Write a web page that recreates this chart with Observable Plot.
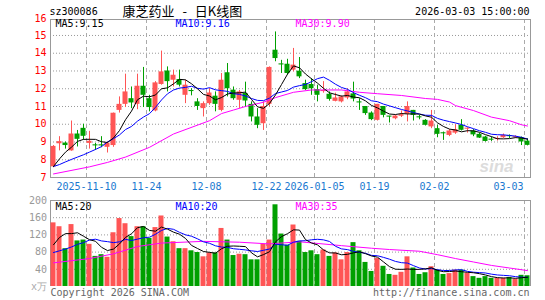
<!DOCTYPE html>
<html><head><meta charset="utf-8">
<script src="https://cdn.jsdelivr.net/npm/d3@7"></script>
<script src="https://cdn.jsdelivr.net/npm/@observablehq/plot@0.6"></script>
<style>
body{margin:0;background:#fff;}
#chart{position:relative;width:545px;height:300px;overflow:hidden;background:#fff;}
#chart svg{position:absolute;left:0;}
</style></head><body><div id="chart"></div>
<script>
// ---------- data ----------
const dates = [
"2025-10-31","2025-11-03","2025-11-04","2025-11-05","2025-11-06","2025-11-07",
"2025-11-10","2025-11-11","2025-11-12","2025-11-13","2025-11-14",
"2025-11-17","2025-11-18","2025-11-19","2025-11-20","2025-11-21",
"2025-11-24","2025-11-25","2025-11-26","2025-11-27","2025-11-28",
"2025-12-01","2025-12-02","2025-12-03","2025-12-04","2025-12-05",
"2025-12-08","2025-12-09","2025-12-10","2025-12-11","2025-12-12",
"2025-12-15","2025-12-16","2025-12-17","2025-12-18","2025-12-19",
"2025-12-22","2025-12-23","2025-12-24","2025-12-25","2025-12-26",
"2025-12-29","2025-12-30","2025-12-31",
"2026-01-05","2026-01-06","2026-01-07","2026-01-08","2026-01-09",
"2026-01-12","2026-01-13","2026-01-14","2026-01-15","2026-01-16",
"2026-01-19","2026-01-20","2026-01-21","2026-01-22","2026-01-23",
"2026-01-26","2026-01-27","2026-01-28","2026-01-29","2026-01-30",
"2026-02-02","2026-02-03","2026-02-04","2026-02-05","2026-02-06",
"2026-02-09","2026-02-10","2026-02-11","2026-02-12","2026-02-13",
"2026-02-24","2026-02-25","2026-02-26","2026-02-27",
"2026-03-02","2026-03-03"];

const open = [7.6,8.9,8.94,8.5,9.45,9.77,8.92,8.84,8.82,8.7,8.8,10.78,11.12,11.44,11.12,12.14,11.44,10.75,12.24,13.0,12.48,12.52,11.63,11.87,11.26,10.88,11.16,11.58,10.78,12.9,11.92,11.35,11.73,11.12,10.41,10.03,11.12,14.17,13.38,13.38,13.05,12.99,12.29,12.24,11.95,11.84,11.69,11.29,11.26,11.48,11.71,11.24,11.0,10.63,10.22,11.0,10.43,10.31,10.45,10.56,10.78,10.4,10.22,9.85,9.75,9.5,9.37,9.5,9.94,9.72,9.62,9.43,9.28,9.15,9.14,9.24,9.32,9.24,9.24,9.05];
const high = [8.8,9.3,9.0,10.18,9.65,10.0,9.6,8.92,9.3,9.0,10.63,11.54,12.82,12.1,12.82,13.2,11.63,12.4,14.12,13.23,13.05,13.05,12.48,12.0,11.44,11.26,12.0,11.82,12.86,13.42,12.1,11.9,12.37,11.26,10.88,11.26,13.23,15.2,13.6,13.66,14.27,13.76,12.48,12.57,12.2,12.4,11.82,11.75,11.6,12.0,12.37,11.44,11.0,10.7,11.12,11.0,10.45,10.5,10.75,11.26,10.78,10.5,10.26,10.78,9.94,9.56,9.7,9.98,10.26,9.8,9.7,9.5,9.32,9.28,9.3,9.45,9.4,9.35,9.28,9.18];
const low = [7.55,8.5,8.6,8.48,8.72,9.1,8.6,8.52,8.68,8.38,8.7,10.63,10.94,10.88,10.82,10.94,10.7,10.7,12.2,11.82,12.1,12.1,11.16,11.6,10.78,10.41,11.07,10.7,10.7,11.54,11.35,10.88,10.94,10.13,9.75,9.65,11.0,13.52,12.86,12.77,12.95,12.57,11.9,11.63,11.26,11.75,11.3,11.26,11.2,11.38,11.26,10.78,10.5,10.2,10.18,10.36,10.07,10.25,10.38,10.13,10.18,10.25,9.9,9.75,9.24,9.09,9.3,9.43,9.62,9.5,9.3,9.2,9.0,9.03,9.05,9.2,9.2,9.2,8.8,8.78];
const close = [8.75,9.02,8.8,9.45,9.15,9.32,9.04,8.78,8.78,8.93,10.62,11.12,11.82,11.2,12.14,11.63,10.94,12.33,12.95,12.4,12.76,12.2,12.2,11.84,11.0,11.16,11.76,11.12,12.48,12.0,11.44,11.82,11.31,10.41,9.94,11.0,13.2,13.7,13.34,12.86,13.33,12.67,11.95,12.0,11.63,11.87,11.4,11.48,11.54,11.82,11.42,11.2,10.6,10.26,11.12,10.5,10.4,10.46,10.54,11.0,10.5,10.36,9.94,10.18,9.43,9.46,9.62,9.69,9.66,9.76,9.4,9.22,9.03,9.1,9.16,9.37,9.3,9.3,9.0,8.81];
const volume = [148,139,88,144,106,108,98,70,74,68,125,158,146,116,139,139,112,137,164,115,104,88,88,83,79,69,78,78,135,108,72,75,74,62,62,98,108,190,122,96,143,105,79,83,74,85,70,78,62,79,102,83,56,35,65,47,28,26,33,69,43,28,32,46,38,28,30,38,38,31,23,19,23,19,19,19,21,17,26,25];

// first values of the moving averages (they depend on days before the window)
const priceMA5Head = [7.62,8.05,8.43,8.71];
const priceMA10Head = [7.62,7.73,7.88,8.02,8.15,8.28,8.43,8.58,8.74];
const volMA5Head = [97,114,123,123];
const volMA10Head = [79,83,87,92,98,102,108,110,106];

// 30-day averages
const priceMA30Dates = ["2025-10-31","2025-11-10","2025-11-13","2025-11-18","2025-11-24","2025-11-28","2025-12-08","2025-12-10","2025-12-12","2025-12-16","2025-12-19","2025-12-23","2025-12-26","2025-12-31","2026-01-09","2026-01-14","2026-01-19","2026-01-23","2026-01-29","2026-02-02","2026-02-04","2026-02-05","2026-02-10","2026-02-13","2026-02-26","2026-03-02","2026-03-03"];
const priceMA30Vals = [7.2,7.6,7.85,8.15,8.7,9.45,10.2,10.6,10.8,11.0,11.24,11.5,11.8,11.93,11.93,11.8,11.72,11.62,11.45,11.4,11.25,11.05,10.77,10.4,10.2,9.97,9.9];
const volMA30Dates = ["2025-10-31","2025-11-10","2025-11-14","2025-11-20","2025-11-26","2025-12-05","2025-12-15","2025-12-22","2025-12-29","2026-01-09","2026-01-16","2026-01-21","2026-01-28","2026-02-02","2026-02-05","2026-02-10","2026-02-13","2026-02-26","2026-03-03"];
const volMA30Vals = [55,65,76,93,101,105,103,99,104,95,89,86,82,74,65,57,49,43,37];

const tickDates = ["2025-11-10","2025-11-24","2025-12-08","2025-12-22","2026-01-05","2026-01-19","2026-02-02","2026-03-03"];
const tickLabels = ["2025-11-10","11-24","12-08","12-22","2026-01-05","01-19","02-02","03-03"];
const priceTicks = [7,8,9,10,11,12,13,14,15,16];
const priceGrid = [8,9,10,11,12,13,14,15];
const volTicks = [200,160,120,80,40];
const volGrid = [40,80,120,160];
const volUnit = "x万";

const code = "sz300086";
const title = "康芝药业 - 日K线图";
const stamp = "2026-03-03 15:00:00";
const priceMALabels = ["MA5:9.15","MA10:9.16","MA30:9.90"];
const volMALabels = ["MA5:20","MA10:20","MA30:35"];
const footLeft = "Copyright 2026 SINA.COM";
const footRight = "http://finance.sina.com.cn";

// ---------- drawing ----------
const FONT = '"DejaVu Sans Mono", monospace';
const CJK = '"Noto Sans CJK SC", sans-serif';
const RED = "#ff5555", GREEN = "#00a000", BLUE = "#1a78d0";
const MA_COLORS = ["black", "#0000ff", "#ff00ff"];
const N = dates.length;
const idx = d3.range(N);
const colorOf = i => close[i] >= open[i] ? RED : GREEN;
function movingAvg(arr, k, head) {
  return arr.map((_, i) => i < k - 1 ? head[i] : d3.mean(arr.slice(i - k + 1, i + 1)));
}
const pMA5 = movingAvg(close, 5, priceMA5Head);
const pMA10 = movingAvg(close, 10, priceMA10Head);
const vMA5 = movingAvg(volume, 5, volMA5Head);
const vMA10 = movingAvg(volume, 10, volMA10Head);
const tickIdx = tickDates.map(d => dates.indexOf(d));
const lastTick = tickIdx.length - 1;
const commonStyle = {fontFamily: FONT, fontSize: "10px", background: "transparent", overflow: "visible"};
const T = {lineAnchor: "middle", fontSize: 10};
const yTop = 15.9; // upper edge of the price frame

const price = Plot.plot({
  width: 545, height: 196,
  marginLeft: 50, marginRight: 15, marginTop: 19, marginBottom: 19,
  x: {type: "linear", domain: [0, N], axis: null},
  y: {domain: [7, yTop], axis: null},
  color: {type: "identity"},
  style: commonStyle,
  marks: [
    Plot.ruleY(priceGrid, {stroke: "#999", strokeDasharray: "1,2"}),
    Plot.ruleX(tickIdx, {stroke: "#aaa", strokeDasharray: "4,3"}),
    Plot.frame({stroke: "#999"}),
    Plot.text(["sina"], {...T, frameAnchor: "bottom-right", dx: -17, dy: -11, fontSize: 17, fontWeight: "bold", fontStyle: "italic", fontFamily: "Liberation Sans, sans-serif", fill: "#dcdcdc"}),
    Plot.ruleX(idx, {x: i => i + 0.5, y1: i => low[i], y2: i => high[i], stroke: colorOf}),
    Plot.rect(idx, {
      x1: i => i + 1/12, x2: i => i + 11/12,
      y1: i => Math.min(open[i], close[i]),
      y2: i => Math.max(open[i], close[i], Math.min(open[i], close[i]) + 0.06),
      fill: colorOf
    }),
    Plot.line(priceMA30Vals, {x: (d, k) => dates.indexOf(priceMA30Dates[k]) + 0.5, y: d => d, stroke: MA_COLORS[2], strokeWidth: 1}),
    Plot.line(idx, {x: i => i + 0.5, y: i => pMA10[i], stroke: MA_COLORS[1], strokeWidth: 1}),
    Plot.line(idx, {x: i => i + 0.5, y: i => pMA5[i], stroke: MA_COLORS[0], strokeWidth: 1}),
    Plot.text(priceTicks, {...T, y: d => Math.min(d, yTop + 0.02), frameAnchor: "left", dx: -4, textAnchor: "end", fill: "red"}),
    Plot.text(tickLabels.slice(0, lastTick), {...T, x: (d, k) => tickIdx[k], frameAnchor: "bottom", dy: 9, fill: BLUE}),
    Plot.text(tickLabels.slice(lastTick), {...T, x: () => tickIdx[lastTick], frameAnchor: "bottom", dy: 9, dx: -1, textAnchor: "end", fill: BLUE}),
    Plot.text([code], {...T, frameAnchor: "top-left", dx: -1, dy: -8, textAnchor: "start", fill: "black"}),
    Plot.text([title], {...T, frameAnchor: "top-left", dx: 72, dy: -8, textAnchor: "start", fill: "black", fontSize: 13, fontFamily: CJK}),
    Plot.text([stamp], {...T, frameAnchor: "top-right", dx: -1, dy: -8, textAnchor: "end", fill: "black"}),
    ...priceMALabels.map((t, k) => Plot.text([t], {...T, frameAnchor: "top-left", dx: 5 + 120 * k, dy: 4.7, textAnchor: "start", fill: MA_COLORS[k]}))
  ]
});

const vol = Plot.plot({
  width: 545, height: 104,
  marginLeft: 50, marginRight: 15, marginTop: 4, marginBottom: 14,
  x: {type: "linear", domain: [0, N], axis: null},
  y: {domain: [0, 200], axis: null},
  color: {type: "identity"},
  style: commonStyle,
  marks: [
    Plot.ruleY(volGrid, {stroke: "#999", strokeDasharray: "1,2"}),
    Plot.ruleX(tickIdx, {stroke: "#aaa", strokeDasharray: "4,3"}),
    Plot.ruleY([200], {stroke: "#999"}),
    Plot.ruleX([0, N], {stroke: "#999"}),
    Plot.rect(idx, {x1: i => i + 1/12, x2: i => i + 11/12, y1: 0, y2: i => volume[i], fill: colorOf}),
    Plot.line(volMA30Vals, {x: (d, k) => dates.indexOf(volMA30Dates[k]) + 0.5, y: d => d, stroke: MA_COLORS[2], strokeWidth: 1}),
    Plot.line(idx, {x: i => i + 0.5, y: i => vMA10[i], stroke: MA_COLORS[1], strokeWidth: 1}),
    Plot.line(idx, {x: i => i + 0.5, y: i => vMA5[i], stroke: MA_COLORS[0], strokeWidth: 1}),
    Plot.text(volTicks, {...T, y: d => d, frameAnchor: "left", dx: -3.5, textAnchor: "end", fill: "#999"}),
    Plot.text([volUnit], {...T, y: () => 0, frameAnchor: "left", dx: -3.5, textAnchor: "end", fill: "#aaa"}),
    ...volMALabels.map((t, k) => Plot.text([t], {...T, frameAnchor: "top-left", dx: 5 + 120 * k, dy: 6.3, textAnchor: "start", fill: MA_COLORS[k]})),
    Plot.text([footLeft], {...T, frameAnchor: "bottom-left", dy: 6.5, textAnchor: "start", fill: "#666"}),
    Plot.text([footRight], {...T, frameAnchor: "bottom-right", dx: -1, dy: 6.5, textAnchor: "end", fill: "#666"})
  ]
});

// wider word gaps in the title, as in the reference
d3.select(price).selectAll("text").filter(function() { return this.textContent === title; }).style("word-spacing", "5px");

const host = document.getElementById("chart");
price.style.top = "0px";
vol.style.top = "196px";
host.appendChild(price);
host.appendChild(vol);
</script>
</body></html>
